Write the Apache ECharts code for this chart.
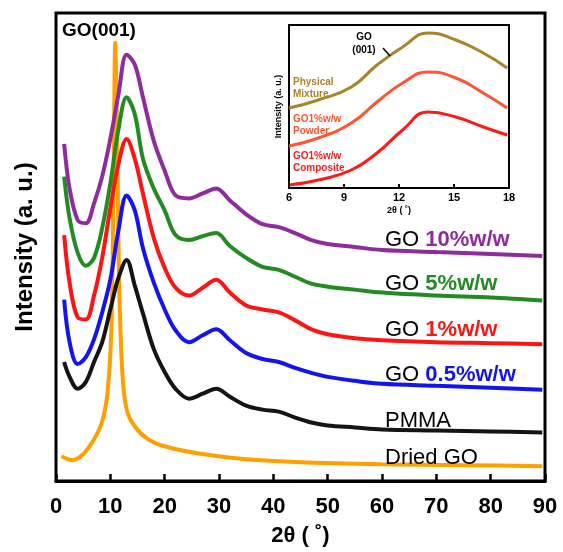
<!DOCTYPE html>
<html>
<head>
<meta charset="utf-8">
<script src="https://cdn.jsdelivr.net/npm/echarts@6/dist/echarts.min.js"></script>
<style>
html,body{margin:0;padding:0;background:#fff;}
#chart{width:563px;height:552px;}
</style>
</head>
<body>
<div id="chart"></div>
<script>
// ---- main panel data (2θ in degrees, intensity in arbitrary offset units) ----
const mainX = [1.5, 2.5, 4, 5.5, 7, 8.5, 10, 11.5, 13, 14.5, 16, 18, 20, 22, 24.5, 27, 29.5, 32, 35, 38, 41, 44, 47, 50, 55, 60, 70, 80, 89.5];
const go10 = [340, 295, 263, 260, 280, 307, 345, 390, 430, 420, 387, 343, 313, 288, 285, 290, 295, 283, 269, 259, 256, 250, 243, 239, 236, 233, 231, 229, 227];
const go5 = [307, 265, 230, 217, 225, 255, 300, 355, 387, 370, 325, 295, 273, 248, 243, 247, 250, 237, 225, 216, 213, 206, 199, 196, 193, 190, 187, 185, 182];
const go1 = [248, 200, 165, 163, 187, 225, 275, 320, 345, 325, 290, 245, 215, 195, 187, 195, 203, 190, 177, 173, 170, 162, 153, 148, 144, 142, 140, 139, 138];
const go05 = [183, 140, 118, 125, 143, 170, 203, 253, 288, 273, 235, 200, 173, 152, 140, 147, 153, 142, 129, 123, 120, 114, 109, 105, 101, 98, 96, 94, 92];
const pmma = [120, 105, 93, 100, 120, 140, 173, 205, 223, 197, 169, 133, 110, 93, 83, 88, 93, 85, 76, 72, 70, 64, 59, 56, 54, 52, 51, 50, 49];
const driedX = [1, 3, 5, 7, 8.5, 9.5, 10.2, 10.6, 10.9, 11.2, 11.6, 12.2, 13, 14.5, 17, 20, 26, 35, 45, 60, 75, 89.5];
const driedGo = [25, 21, 27, 42, 60, 90, 155, 305, 442, 365, 205, 110, 72, 55, 42, 35, 28, 22, 19, 17, 16, 15];
const mainTicks = [0, 10, 20, 30, 40, 50, 60, 70, 80, 90];

// ---- inset data ----
const insetX = [6, 7.6, 9.4, 10.8, 12.2, 13.6, 15.1, 16.6, 17.9];
const physicalMix = [80, 88, 101, 123, 141, 155, 148, 135, 120];
const powder1 = [42, 50, 65, 86, 105, 116, 110, 95, 80];
const composite1 = [3, 8, 18, 35, 58, 76, 71, 61, 53];
const insetTicks = [6, 9, 12, 15, 18];

const seriesNames = ['GO 10%w/w', 'GO 5%w/w', 'GO 1%w/w', 'GO 0.5%w/w', 'PMMA', 'Dried GO'];
const colors = ['#8E2C9E', '#228B22', '#FF1414', '#1414F0', '#141414', '#FFA000'];
const insetColors = ['#A8842A', '#FF5530', '#FF1A1A'];

const zip = (xs, ys) => xs.map((x, i) => [x, ys[i]]);
const FONT = 'Liberation Sans';

function mainSeries(name, xs, ys, color, smooth) {
  return {
    name, type: 'line', xAxisIndex: 0, yAxisIndex: 0,
    data: zip(xs, ys), showSymbol: false, smooth: smooth,
    lineStyle: { color, width: 4 }, z: 3
  };
}
function insetSeries(name, ys, color) {
  return {
    name, type: 'line', xAxisIndex: 1, yAxisIndex: 1,
    data: zip(insetX, ys), showSymbol: false, smooth: 0.5,
    lineStyle: { color, width: 3 }, z: 5
  };
}
function legendText(y, goPart, pctPart, color) {
  return {
    type: 'text', x: 385, y: y, z: 10,
    style: {
      text: '{k|' + goPart + '}{p|' + pctPart + '}', textVerticalAlign: 'middle',
      rich: {
        k: { fontFamily: FONT, fontSize: 22, fill: '#000' },
        p: { fontFamily: FONT, fontSize: 22, fontWeight: 'bold', fill: color }
      }
    }
  };
}
const splitName = n => { const i = n.indexOf(' '); return [n.slice(0, i + 1), n.slice(i + 1)]; };

const chart = echarts.init(document.getElementById('chart'), null, { renderer: 'canvas' });
const option = {
  animation: false,
  backgroundColor: '#fff',
  grid: [
    { left: 56, right: 18, top: 13, bottom: 67, show: true, borderColor: '#000', borderWidth: 3, backgroundColor: 'transparent' },
    { left: 289, top: 25, width: 220, height: 163, show: true, borderColor: '#000', borderWidth: 2, backgroundColor: '#fff', z: 4 }
  ],
  xAxis: [
    {
      type: 'value', gridIndex: 0, min: 0, max: 90, interval: 10,
      axisLine: { show: true, lineStyle: { color: '#000', width: 3 } },
      axisTick: { show: true, inside: true, length: 7, lineStyle: { color: '#000', width: 2.5 } },
      axisLabel: { fontFamily: FONT, fontSize: 22, fontWeight: 'bold', color: '#000', margin: 15,
        formatter: v => String(mainTicks.includes(v) ? v : '') },
      splitLine: { show: false },
      name: '2θ ( ˚)', nameLocation: 'middle', nameGap: 44,
      nameTextStyle: { fontFamily: FONT, fontSize: 22, fontWeight: 'bold', color: '#000' }
    },
    {
      type: 'value', gridIndex: 1, min: 6, max: 18, interval: 3,
      axisLine: { show: true, lineStyle: { color: '#000', width: 2 } },
      axisTick: { show: true, inside: true, length: 4, lineStyle: { color: '#000', width: 2 } },
      axisLabel: { fontFamily: FONT, fontSize: 11, fontWeight: 'bold', color: '#000', margin: 4,
        formatter: v => String(insetTicks.includes(v) ? v : '') },
      splitLine: { show: false },
      name: '2θ ( ˚)', nameLocation: 'middle', nameGap: 18,
      nameTextStyle: { fontFamily: FONT, fontSize: 9, fontWeight: 'bold', color: '#000' },
      z: 6
    }
  ],
  yAxis: [
    {
      type: 'value', gridIndex: 0, min: 0, max: 472,
      axisLine: { show: false }, axisTick: { show: false }, axisLabel: { show: false },
      splitLine: { show: false },
      name: 'Intensity (a. u.)', nameLocation: 'middle', nameGap: 19, nameRotate: 90,
      nameTextStyle: { fontFamily: FONT, fontSize: 24, fontWeight: 'bold', color: '#000' }
    },
    {
      type: 'value', gridIndex: 1, min: 0, max: 163,
      axisLine: { show: false }, axisTick: { show: false }, axisLabel: { show: false },
      splitLine: { show: false },
      name: 'Intensity (a. u.)', nameLocation: 'middle', nameGap: 6, nameRotate: 90,
      nameTextStyle: { fontFamily: FONT, fontSize: 9, fontWeight: 'bold', color: '#000' },
      z: 6
    }
  ],
  series: [
    mainSeries(seriesNames[5], driedX, driedGo, colors[5], 0.3),
    mainSeries(seriesNames[4], mainX, pmma, colors[4], 0.35),
    mainSeries(seriesNames[3], mainX, go05, colors[3], 0.35),
    mainSeries(seriesNames[2], mainX, go1, colors[2], 0.35),
    mainSeries(seriesNames[1], mainX, go5, colors[1], 0.35),
    mainSeries(seriesNames[0], mainX, go10, colors[0], 0.35),
    insetSeries('Physical Mixture', physicalMix, insetColors[0]),
    insetSeries('GO1%w/w Powder', powder1, insetColors[1]),
    insetSeries('GO1%w/w Composite', composite1, insetColors[2])
  ],
  graphic: [
    { type: 'text', left: 62, top: 21, z: 10, style: { text: 'GO(001)', font: 'bold 19px "Liberation Sans"', fill: '#000' } },
    legendText(240, ...splitName(seriesNames[0]), colors[0]),
    legendText(284, ...splitName(seriesNames[1]), colors[1]),
    legendText(330, ...splitName(seriesNames[2]), colors[2]),
    legendText(375, ...splitName(seriesNames[3]), colors[3]),
    { type: 'text', x: 385, y: 421, z: 10, style: { text: seriesNames[4], font: '22px "Liberation Sans"', fill: '#000', textVerticalAlign: 'middle' } },
    { type: 'text', x: 385, y: 458, z: 10, style: { text: seriesNames[5], font: '22px "Liberation Sans"', fill: '#000', textVerticalAlign: 'middle' } },
    // inset annotations
    { type: 'text', x: 364, y: 44, z: 10, style: { text: 'GO\n(001)', font: 'bold 10px "Liberation Sans"', fill: '#000', textAlign: 'center', textVerticalAlign: 'middle', lineHeight: 13 } },
    { type: 'line', z: 10, shape: { x1: 383, y1: 48, x2: 390, y2: 56 }, style: { stroke: '#000', lineWidth: 1.5 } },
    { type: 'text', x: 293, y: 88, z: 10, style: { text: 'Physical\nMixture', font: 'bold 10px "Liberation Sans"', fill: insetColors[0], textVerticalAlign: 'middle', lineHeight: 12 } },
    { type: 'text', x: 293, y: 125, z: 10, style: { text: 'GO1%w/w\nPowder', font: 'bold 10px "Liberation Sans"', fill: insetColors[1], textVerticalAlign: 'middle', lineHeight: 12 } },
    { type: 'text', x: 293, y: 162, z: 10, style: { text: 'GO1%w/w\nComposite', font: 'bold 10px "Liberation Sans"', fill: insetColors[2], textVerticalAlign: 'middle', lineHeight: 12 } }
  ]
};
chart.setOption(option);
</script>
</body>
</html>
